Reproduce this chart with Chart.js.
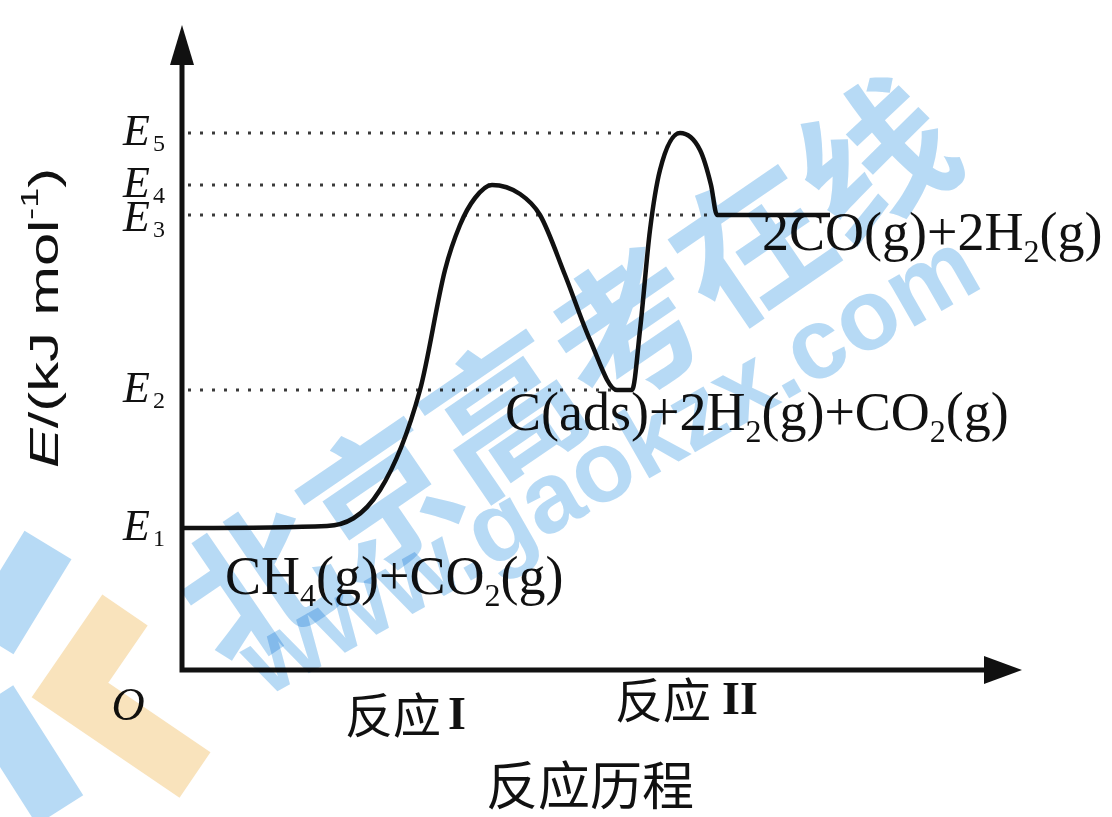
<!DOCTYPE html>
<html>
<head>
<meta charset="utf-8">
<script src="https://cdn.jsdelivr.net/npm/chart.js@4.4.1/dist/chart.umd.min.js"></script>
<style>
  html, body { margin: 0; padding: 0; background: #fff; }
  #wrap { width: 1112px; height: 817px; position: relative; }
</style>
</head>
<body>
<div id="wrap"><canvas id="energy-chart"></canvas></div>
<script>
// Energy levels (arbitrary units)
const levelNames = ['1', '2', '3', '4', '5'];
const levelValues = [14.2, 28, 45.5, 48.5, 53.7];

// Reaction path (x = progress, y = energy)
const pathX = [0, 14.5, 19.8, 23.8, 26.3, 27.8, 29.3, 31, 33.8, 35.8, 38.3, 40.8, 43.5, 45, 45.8, 46.8, 47.8, 49.8, 51.8, 52.9, 53.5, 64.8];
const pathY = [14.2, 14.4, 18, 28, 40, 44.5, 47.2, 48.5, 47.6, 45.5, 39.5, 33, 28, 28, 34, 44, 50, 53.7, 52, 48.5, 45.5, 45.5];

// Where each dotted level line stops (x), same order as levelValues
const dottedEnds = [null, 43.5, 64.8, 31, 49.8];

// Species labels
const speciesLabels = [
    { parts: [['CH'], ['4', 'sub'], ['(g)+CO'], ['2', 'sub'], ['(g)']], x: 4.3, level: 0, dy: 66 },
    { parts: [['C(ads)+2H'], ['2', 'sub'], ['(g)+CO'], ['2', 'sub'], ['(g)']], x: 32.3, level: 1, dy: 40 },
    { parts: [['2CO(g)+2H'], ['2', 'sub'], ['(g)']], x: 58, level: 2, dy: 35 }
];

const pathData = pathX.map((x, i) => ({ x: x, y: pathY[i] }));

const dottedSets = [];
levelValues.forEach((v, i) => {
    if (dottedEnds[i] === null) return;
    dottedSets.push({
        data: [{ x: 0.6, y: v }, { x: dottedEnds[i], y: v }],
        borderColor: '#3a3a3a',
        borderWidth: 3,
        borderDash: [3, 9],
        pointRadius: 0,
        fill: false
    });
});

function drawRich(ctx, parts, x, y, size) {
    let cx = x;
    parts.forEach(p => {
        const sub = p[1] === 'sub';
        ctx.font = (sub ? Math.round(size * 0.6) : size) + 'px "Liberation Serif"';
        ctx.fillText(p[0], cx, sub ? y + size * 0.22 : y);
        cx += ctx.measureText(p[0]).width;
    });
}

const decorPlugin = {
    id: 'decor',
    beforeDraw(chart) {
        const ctx = chart.ctx;
        ctx.save();
        ctx.fillStyle = '#fff';
        ctx.fillRect(0, 0, chart.width, chart.height);
        ctx.restore();
    },
    afterDatasetsDraw(chart) {
        const ctx = chart.ctx;
        const xs = chart.scales.x, ys = chart.scales.y;
        const area = chart.chartArea;
        const x0 = xs.getPixelForValue(0), y0 = ys.getPixelForValue(0);
        ctx.save();
        ctx.strokeStyle = '#111';
        ctx.fillStyle = '#111';
        ctx.lineWidth = 5;
        ctx.lineCap = 'square';
        // axes
        ctx.beginPath();
        ctx.moveTo(x0, area.top + 10);
        ctx.lineTo(x0, y0);
        ctx.lineTo(area.right - 20, y0);
        ctx.stroke();
        // y arrow
        ctx.beginPath();
        ctx.moveTo(x0, area.top - 15);
        ctx.lineTo(x0 - 12, area.top + 25);
        ctx.lineTo(x0 + 12, area.top + 25);
        ctx.closePath();
        ctx.fill();
        // x arrow
        ctx.beginPath();
        ctx.moveTo(area.right, y0);
        ctx.lineTo(area.right - 38, y0 - 14);
        ctx.lineTo(area.right - 38, y0 + 14);
        ctx.closePath();
        ctx.fill();

        // level labels E1..E5
        ctx.textBaseline = 'middle';
        levelValues.forEach((v, i) => {
            const py = ys.getPixelForValue(v) + (i === 2 ? 4 : 0);
            ctx.textAlign = 'right';
            ctx.font = 'italic 44px "Liberation Serif"';
            ctx.fillText('E', 150, py);
            ctx.textAlign = 'left';
            ctx.font = '24px "Liberation Serif"';
            ctx.fillText(levelNames[i], 153, py + 12);
        });

        // origin
        ctx.textAlign = 'center';
        ctx.font = 'italic 46px "Liberation Serif"';
        ctx.fillText('O', x0 - 54, y0 + 38);

        // species
        ctx.textAlign = 'left';
        ctx.textBaseline = 'alphabetic';
        speciesLabels.forEach(s => {
            drawRich(ctx, s.parts, xs.getPixelForValue(s.x), ys.getPixelForValue(levelValues[s.level]) + s.dy, 54);
        });

        // x labels
        ctx.textBaseline = 'middle';
        ctx.textAlign = 'left';
        ctx.font = '48px "Noto Sans CJK SC"';
        ctx.fillText('反应', 345, y0 + 45);
        ctx.fillText('反应', 615, y0 + 30);
        ctx.font = 'bold 46px "Liberation Serif"';
        ctx.fillText('I', 448, y0 + 47);
        ctx.fillText('II', 722, y0 + 32);
        ctx.textAlign = 'center';
        ctx.font = '52px "Noto Sans CJK SC"';
        ctx.fillText('反应历程', 590, y0 + 115);

        // y title
        ctx.translate(47, 318);
        ctx.rotate(-Math.PI / 2);
        const pieces = [
            ['E', 'italic 40px "Liberation Sans"', 0],
            ['/(kJ mol', '40px "Liberation Sans"', 0],
            ['-1', '24px "Liberation Sans"', -16],
            [')', '40px "Liberation Sans"', 0]
        ];
        let total = 0;
        pieces.forEach(p => { ctx.font = p[1]; total += ctx.measureText(p[0]).width; });
        const sx = 300 / total;
        ctx.scale(sx, 1);
        let cx = -total / 2;
        ctx.textAlign = 'left';
        pieces.forEach(p => {
            ctx.font = p[1];
            ctx.fillText(p[0], cx, p[2]);
            cx += ctx.measureText(p[0]).width;
        });
        ctx.restore();
    },
    afterDraw(chart) {
        // site watermark, multiplied over the figure
        const ctx = chart.ctx;
        ctx.save();
        ctx.globalCompositeOperation = 'multiply';
        ctx.globalAlpha = 0.75;
        ctx.fillStyle = '#9fcdf1';
        ctx.strokeStyle = '#9fcdf1';
        ctx.lineWidth = 55;
        ctx.beginPath();
        ctx.moveTo(48, 545);
        ctx.lineTo(-10, 640);
        ctx.moveTo(-10, 700);
        ctx.lineTo(60, 810);
        ctx.stroke();
        ctx.strokeStyle = '#f6d9a5';
        ctx.beginPath();
        ctx.moveTo(125, 610);
        ctx.lineTo(70, 690);
        ctx.lineTo(195, 775);
        ctx.stroke();
        ctx.textAlign = 'center';
        ctx.textBaseline = 'middle';
        ctx.save();
        ctx.translate(565, 370);
        ctx.rotate(-0.6);
        ctx.font = 'bold 150px "Noto Sans CJK SC"';
        ctx.fillText('北京高考在线', 0, 0);
        ctx.restore();
        ctx.save();
        ctx.translate(612, 468);
        ctx.rotate(-0.52);
        ctx.font = 'bold 100px "Liberation Sans"';
        ctx.fillText('www.gaokzx.com', 0, 0);
        ctx.restore();
        ctx.restore();
    }
};

new Chart(document.getElementById('energy-chart'), {
    type: 'line',
    data: {
        datasets: [{
            data: pathData,
            borderColor: '#111',
            borderWidth: 4.5,
            cubicInterpolationMode: 'monotone',
            pointRadius: 0,
            fill: false
        }].concat(dottedSets)
    },
    options: {
        responsive: true,
        maintainAspectRatio: false,
        animation: false,
        devicePixelRatio: 1,
        layout: { padding: { left: 182, right: 90, top: 40, bottom: 147 } },
        plugins: { legend: { display: false }, tooltip: { enabled: false } },
        scales: {
            x: { type: 'linear', min: 0, max: 84, display: false },
            y: { type: 'linear', min: 0, max: 63, display: false }
        }
    },
    plugins: [decorPlugin]
});
</script>
</body>
</html>
